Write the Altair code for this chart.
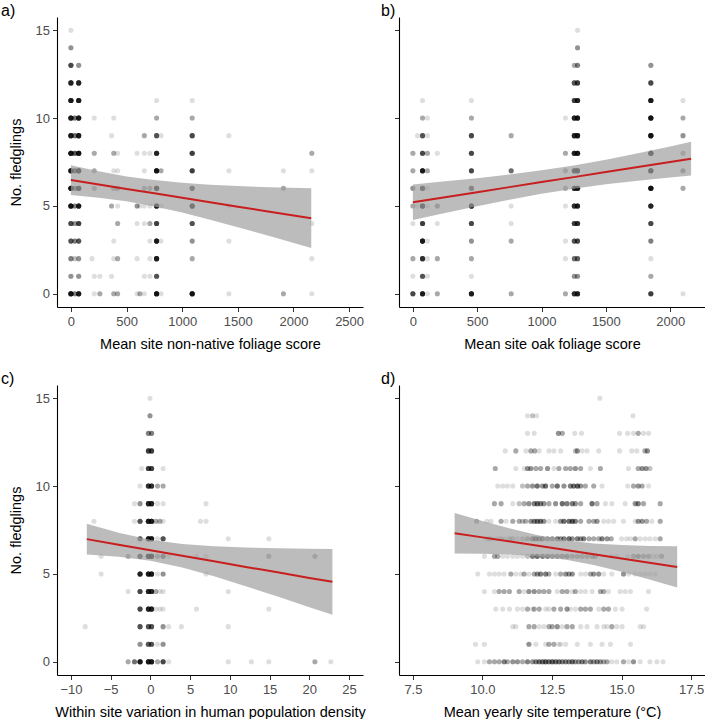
import altair as alt
import pandas as pd

FONT = "Liberation Sans"
RED = "#c81e1e"

# Fledgling counts: (x value, no. fledglings, no. of nests at that position)
nests_a = [
    (0, 15, 1),
    (0, 14, 4),
    (0, 13, 9), (70, 13, 4),
    (0, 12, 14), (70, 12, 14),
    (0, 11, 16), (70, 11, 16), (770, 11, 1), (1090, 11, 1),
    (0, 10, 16), (35, 10, 6), (70, 10, 16), (210, 10, 1), (385, 10, 1), (770, 10, 3), (1090, 10, 3),
    (0, 9, 16), (35, 9, 6), (70, 9, 16), (365, 9, 1), (660, 9, 3), (770, 9, 8), (810, 9, 1), (1090, 9, 9), (1420, 9, 1),
    (0, 8, 18), (35, 8, 8), (70, 8, 18), (210, 8, 3), (385, 8, 3), (420, 8, 1), (595, 8, 1), (660, 8, 1),
    (710, 8, 1), (770, 8, 14), (1090, 8, 10), (2165, 8, 3),
    (0, 7, 18), (35, 7, 8), (70, 7, 18), (210, 7, 3), (385, 7, 1), (420, 7, 1), (660, 7, 1), (770, 7, 18),
    (810, 7, 3), (1090, 7, 10), (1420, 7, 1), (1910, 7, 1), (2165, 7, 1),
    (0, 6, 18), (35, 6, 6), (70, 6, 16), (210, 6, 3), (385, 6, 3), (420, 6, 3), (660, 6, 3), (710, 6, 3),
    (770, 6, 16), (1090, 6, 10), (1910, 6, 3),
    (0, 5, 18), (35, 5, 5), (70, 5, 16), (365, 5, 3), (420, 5, 1), (595, 5, 4), (620, 5, 1), (660, 5, 1),
    (710, 5, 1), (770, 5, 16), (810, 5, 1), (1090, 5, 16), (1420, 5, 1),
    (0, 4, 9), (35, 4, 4), (70, 4, 10), (420, 4, 3), (595, 4, 1), (660, 4, 1), (710, 4, 3), (770, 4, 10),
    (1090, 4, 8), (2165, 4, 1),
    (0, 3, 8), (35, 3, 5), (70, 3, 8), (385, 3, 1), (710, 3, 1), (770, 3, 16), (810, 3, 1), (1090, 3, 4), (1420, 3, 1),
    (0, 2, 5), (35, 2, 2), (70, 2, 4), (190, 2, 1), (385, 2, 1), (420, 2, 3), (595, 2, 1), (710, 2, 1),
    (770, 2, 16), (1090, 2, 3), (2165, 2, 1),
    (0, 1, 4), (70, 1, 4), (210, 1, 1), (260, 1, 1), (365, 1, 1), (660, 1, 1), (710, 1, 1), (770, 1, 8),
    (0, 0, 18), (35, 0, 5), (70, 0, 16), (210, 0, 1), (260, 0, 3), (385, 0, 3), (420, 0, 3), (595, 0, 1),
    (620, 0, 3), (660, 0, 1), (770, 0, 18), (810, 0, 1), (1090, 0, 18), (1420, 0, 1), (1910, 0, 3), (2165, 0, 1),
]

nests_b = [
    (1280, 15, 1),
    (1280, 14, 4),
    (1255, 13, 3), (1280, 13, 5), (1850, 13, 4),
    (1255, 12, 8), (1280, 12, 10), (1850, 12, 9),
    (75, 11, 1), (455, 11, 1), (1255, 11, 10), (1280, 11, 14), (1850, 11, 16), (2100, 11, 1),
    (75, 10, 3), (113, 10, 1), (455, 10, 3), (1186, 10, 1), (1255, 10, 14), (1280, 10, 16), (1850, 10, 18), (2100, 10, 3),
    (36, 9, 1), (75, 9, 8), (113, 9, 1), (455, 9, 9), (764, 9, 3), (1255, 9, 14), (1280, 9, 16), (1850, 9, 18), (2100, 9, 4),
    (0, 8, 3), (75, 8, 9), (113, 8, 3), (190, 8, 1), (455, 8, 9), (1186, 8, 3), (1255, 8, 14), (1280, 8, 16),
    (1850, 8, 18), (2100, 8, 3),
    (0, 7, 3), (75, 7, 16), (113, 7, 3), (455, 7, 9), (764, 7, 6), (1186, 7, 3), (1255, 7, 14), (1280, 7, 16),
    (1850, 7, 18), (2100, 7, 4),
    (0, 6, 4), (75, 6, 12), (113, 6, 1), (455, 6, 9), (1186, 6, 3), (1255, 6, 14), (1280, 6, 16), (1850, 6, 18), (2100, 6, 3),
    (0, 5, 3), (36, 5, 1), (75, 5, 16), (113, 5, 1), (190, 5, 4), (455, 5, 16), (764, 5, 1), (1186, 5, 1),
    (1255, 5, 12), (1280, 5, 14), (1850, 5, 14),
    (0, 4, 1), (75, 4, 10), (190, 4, 1), (455, 4, 9), (764, 4, 1), (1255, 4, 10), (1280, 4, 12), (1850, 4, 9),
    (75, 3, 16), (113, 3, 1), (455, 3, 4), (764, 3, 3), (1186, 3, 1), (1255, 3, 8), (1280, 3, 9), (1850, 3, 5),
    (0, 2, 3), (75, 2, 12), (113, 2, 1), (190, 2, 3), (455, 2, 3), (1186, 2, 1), (1255, 2, 6), (1280, 2, 7), (1850, 2, 1),
    (0, 1, 1), (75, 1, 8), (113, 1, 1), (455, 1, 1), (1255, 1, 4), (1280, 1, 4), (1850, 1, 3),
    (0, 0, 9), (75, 0, 16), (113, 0, 1), (190, 0, 3), (455, 0, 16), (764, 0, 3), (1186, 0, 3), (1255, 0, 12),
    (1280, 0, 14), (1850, 0, 10), (2100, 0, 1),
]

nests_c = [
    (-0.05, 15, 1),
    (-0.05, 14, 4),
    (-0.25, 13, 5), (0.15, 13, 5),
    (-0.25, 12, 10), (0.15, 12, 10),
    (-1.1, 11, 1), (-0.25, 11, 10), (0.15, 11, 10), (1.6, 11, 1),
    (-1.3, 10, 1), (-0.25, 10, 12), (0.15, 10, 12), (0.9, 10, 3), (1.6, 10, 3),
    (-2.0, 9, 1), (-1.3, 9, 4), (-0.25, 9, 14), (0.15, 9, 14), (0.9, 9, 1), (1.6, 9, 1), (7.0, 9, 1),
    (-7.1, 8, 1), (-2.0, 8, 1), (-1.3, 8, 8), (-0.25, 8, 16), (0.15, 8, 16), (0.7, 8, 3), (1.2, 8, 3), (1.6, 8, 1),
    (6.3, 8, 1), (7.0, 8, 1),
    (-1.3, 7, 8), (-0.25, 7, 16), (0.15, 7, 16), (0.9, 7, 1), (1.6, 7, 8), (9.8, 7, 1), (14.9, 7, 1),
    (-6.2, 6, 1), (-2.8, 6, 3), (-1.3, 6, 9), (-0.25, 6, 16), (0.15, 6, 16), (0.9, 6, 3), (1.6, 6, 6), (2.3, 6, 1),
    (5.8, 6, 1), (7.0, 6, 1), (14.9, 6, 3), (20.7, 6, 3),
    (-6.2, 5, 1), (-1.3, 5, 14), (-0.25, 5, 16), (0.15, 5, 16), (0.9, 5, 1), (1.6, 5, 4), (7.0, 5, 1),
    (-2.8, 4, 1), (-1.3, 4, 9), (-0.25, 4, 14), (0.15, 4, 14), (0.7, 4, 3), (1.2, 4, 1), (1.6, 4, 1), (9.8, 4, 1),
    (-1.3, 3, 9), (-0.25, 3, 14), (0.15, 3, 14), (0.7, 3, 1), (1.2, 3, 1), (1.6, 3, 1), (5.8, 3, 1), (14.9, 3, 1),
    (-8.2, 2, 1), (-1.3, 2, 8), (-0.25, 2, 8), (0.15, 2, 8), (1.6, 2, 4), (2.3, 2, 1), (3.9, 2, 1), (9.8, 2, 1),
    (-1.3, 1, 4), (-0.25, 1, 8), (0.15, 1, 8), (0.9, 1, 1), (1.6, 1, 4),
    (-2.8, 0, 3), (-2.0, 0, 6), (-1.3, 0, 16), (-0.25, 0, 16), (0.15, 0, 16), (0.9, 0, 3), (1.6, 0, 9), (2.3, 0, 1),
    (9.8, 0, 1), (12.7, 0, 1), (14.9, 0, 1), (20.7, 0, 3), (22.7, 0, 1),
]

nests_d = [
    (14.22, 15, 1),
    (11.62, 14, 1), (11.80, 14, 2), (11.95, 14, 1), (15.41, 14, 1),
    (11.62, 13, 1), (11.86, 13, 1), (12.73, 13, 4), (12.87, 13, 3), (13.32, 13, 1), (13.56, 13, 1), (14.93, 13, 1),
    (15.22, 13, 1), (15.43, 13, 1), (15.60, 13, 3), (15.79, 13, 1), (15.97, 13, 1),
    (10.82, 12, 1), (11.20, 12, 3), (11.56, 12, 1), (11.74, 12, 3), (11.88, 12, 3), (12.04, 12, 1), (12.39, 12, 1),
    (12.57, 12, 1), (12.81, 12, 1), (13.34, 12, 2), (13.41, 12, 4), (13.58, 12, 1), (13.76, 12, 1), (14.18, 12, 1),
    (14.93, 12, 1), (15.37, 12, 1), (15.55, 12, 1), (15.84, 12, 3), (15.93, 12, 4),
    (10.46, 11, 3), (11.20, 11, 1), (11.50, 11, 1), (11.62, 11, 4), (11.74, 11, 4), (11.92, 11, 3), (12.09, 11, 3),
    (12.34, 11, 4), (12.57, 11, 1), (12.75, 11, 3), (12.99, 11, 3), (13.16, 11, 3), (13.34, 11, 4), (13.53, 11, 3),
    (13.88, 11, 1), (14.24, 11, 3), (15.25, 11, 1), (15.60, 11, 3), (15.74, 11, 4), (15.88, 11, 4), (16.02, 11, 2),
    (10.55, 10, 1), (10.73, 10, 1), (10.90, 10, 1), (11.09, 10, 1), (11.44, 10, 2), (11.62, 10, 3), (11.80, 10, 4),
    (11.97, 10, 6), (12.16, 10, 4), (12.27, 10, 6), (12.51, 10, 3), (12.69, 10, 6), (12.93, 10, 4), (13.16, 10, 5),
    (13.28, 10, 6), (13.42, 10, 7), (13.53, 10, 4), (13.70, 10, 3), (14.00, 10, 3), (14.30, 10, 1), (15.22, 10, 1),
    (15.43, 10, 3), (15.60, 10, 4), (15.74, 10, 3), (15.97, 10, 1),
    (10.43, 9, 3), (10.67, 9, 3), (11.09, 9, 1), (11.32, 9, 2), (11.50, 9, 3), (11.67, 9, 4), (11.86, 9, 5),
    (11.97, 9, 6), (12.09, 9, 5), (12.21, 9, 4), (12.39, 9, 3), (12.63, 9, 4), (12.87, 9, 6), (13.04, 9, 5),
    (13.23, 9, 5), (13.34, 9, 4), (13.53, 9, 3), (13.94, 9, 6), (14.12, 9, 3), (14.42, 9, 1), (14.65, 9, 1),
    (15.13, 9, 1), (15.49, 9, 4), (15.60, 9, 5), (15.79, 9, 3), (16.39, 9, 3),
    (9.79, 8, 3), (10.16, 8, 1), (10.31, 8, 1), (10.67, 8, 3), (10.85, 8, 1), (11.09, 8, 3), (11.32, 8, 3),
    (11.44, 8, 2), (11.55, 8, 3), (11.74, 8, 4), (11.86, 8, 5), (11.97, 8, 6), (12.09, 8, 6), (12.21, 8, 4),
    (12.39, 8, 1), (12.63, 8, 1), (12.81, 8, 4), (12.93, 8, 6), (13.11, 8, 6), (13.23, 8, 7), (13.34, 8, 5),
    (13.53, 8, 3), (13.83, 8, 3), (14.00, 8, 3), (14.12, 8, 4), (14.36, 8, 1), (14.53, 8, 1), (14.72, 8, 1),
    (15.07, 8, 1), (15.49, 8, 1), (15.60, 8, 4), (15.74, 8, 4), (15.90, 8, 3), (16.09, 8, 1), (16.39, 8, 3),
    (10.13, 7, 1), (10.25, 7, 2), (10.37, 7, 1), (10.53, 7, 1), (10.67, 7, 2), (10.81, 7, 1), (10.97, 7, 2),
    (11.09, 7, 2), (11.26, 7, 1), (11.44, 7, 2), (11.62, 7, 3), (11.80, 7, 5), (11.92, 7, 6), (12.04, 7, 5),
    (12.16, 7, 5), (12.34, 7, 4), (12.51, 7, 4), (12.69, 7, 5), (12.81, 7, 4), (12.93, 7, 5), (13.11, 7, 6),
    (13.23, 7, 4), (13.41, 7, 5), (13.53, 7, 4), (13.64, 7, 5), (13.83, 7, 3), (14.00, 7, 3), (14.18, 7, 3),
    (14.30, 7, 5), (14.48, 7, 4), (14.63, 7, 3), (15.00, 7, 1), (15.18, 7, 1), (15.32, 7, 1), (15.49, 7, 3),
    (15.67, 7, 1), (15.85, 7, 1), (16.02, 7, 1), (16.21, 7, 1), (16.39, 7, 3),
    (10.07, 6, 1), (10.43, 6, 3), (10.55, 6, 3), (10.73, 6, 1), (10.90, 6, 1), (11.09, 6, 1), (11.26, 6, 1),
    (11.44, 6, 1), (11.62, 6, 2), (11.80, 6, 5), (11.97, 6, 6), (12.16, 6, 5), (12.34, 6, 5), (12.51, 6, 4),
    (12.69, 6, 4), (12.87, 6, 4), (13.04, 6, 4), (13.23, 6, 3), (13.41, 6, 3), (13.58, 6, 3), (13.76, 6, 3),
    (13.94, 6, 3), (14.06, 6, 3), (14.65, 6, 1), (14.83, 6, 1), (15.22, 6, 1), (15.43, 6, 3), (15.60, 6, 4),
    (15.79, 6, 3), (15.97, 6, 3), (16.14, 6, 1), (16.27, 6, 1), (16.44, 6, 3),
    (9.83, 5, 1), (10.25, 5, 1), (10.43, 5, 1), (10.60, 5, 1), (10.78, 5, 1), (11.02, 5, 3), (11.20, 5, 1),
    (11.38, 5, 1), (11.50, 5, 3), (11.67, 5, 1), (11.86, 5, 3), (11.97, 5, 4), (12.09, 5, 5), (12.27, 5, 5),
    (12.39, 5, 3), (12.63, 5, 1), (12.81, 5, 3), (12.99, 5, 4), (13.11, 5, 4), (13.23, 5, 4), (13.53, 5, 1),
    (13.70, 5, 1), (13.88, 5, 3), (14.00, 5, 4), (14.18, 5, 4), (14.36, 5, 1), (14.65, 5, 1), (15.07, 5, 4),
    (15.25, 5, 1), (15.49, 5, 1), (15.67, 5, 1), (15.85, 5, 1), (16.02, 5, 1), (16.21, 5, 1),
    (10.07, 4, 1), (10.43, 4, 1), (10.60, 4, 3), (10.78, 4, 3), (10.97, 4, 3), (11.32, 4, 3), (11.50, 4, 1),
    (11.67, 4, 4), (11.86, 4, 4), (12.04, 4, 3), (12.21, 4, 3), (12.39, 4, 3), (12.69, 4, 1), (12.87, 4, 3),
    (13.04, 4, 3), (13.23, 4, 1), (13.34, 4, 3), (13.53, 4, 1), (13.70, 4, 1), (13.94, 4, 1), (14.24, 4, 3),
    (14.36, 4, 3), (14.53, 4, 1), (14.95, 4, 1), (15.13, 4, 1), (15.32, 4, 1), (15.97, 4, 1),
    (10.48, 3, 1), (10.73, 3, 1), (10.97, 3, 1), (11.26, 3, 1), (11.44, 3, 1), (11.62, 3, 3), (11.80, 3, 1),
    (11.86, 3, 3), (12.04, 3, 3), (12.27, 3, 1), (12.39, 3, 1), (12.57, 3, 3), (12.81, 3, 3), (13.04, 3, 4),
    (13.16, 3, 1), (13.34, 3, 1), (13.53, 3, 3), (13.70, 3, 3), (13.88, 3, 3), (14.18, 3, 1), (14.36, 3, 3),
    (14.53, 3, 3), (14.78, 3, 1), (15.02, 3, 1), (15.90, 3, 1),
    (11.09, 2, 1), (11.20, 2, 1), (11.67, 2, 3), (11.86, 2, 3), (12.04, 2, 1), (12.21, 2, 1), (12.39, 2, 3),
    (12.51, 2, 3), (12.69, 2, 4), (12.87, 2, 1), (13.04, 2, 3), (13.23, 2, 3), (13.53, 2, 1), (13.76, 2, 1),
    (14.12, 2, 1), (14.36, 2, 1), (14.48, 2, 1), (14.65, 2, 3), (14.83, 2, 1), (15.02, 2, 1), (15.67, 2, 1),
    (15.79, 2, 1),
    (9.75, 1, 1), (10.07, 1, 1), (11.67, 1, 4), (11.92, 1, 1), (12.27, 1, 1), (12.39, 1, 3), (12.57, 1, 3),
    (12.75, 1, 1), (12.81, 1, 1), (12.99, 1, 1), (13.41, 1, 1), (13.88, 1, 1), (14.30, 1, 1), (14.60, 1, 1),
    (15.32, 1, 1),
    (9.83, 0, 1), (10.07, 0, 1), (10.25, 0, 3), (10.43, 0, 3), (10.60, 0, 3), (10.78, 0, 5), (10.90, 0, 3),
    (11.09, 0, 4), (11.26, 0, 4), (11.44, 0, 3), (11.62, 0, 5), (11.80, 0, 4), (11.92, 0, 5), (12.04, 0, 6),
    (12.16, 0, 6), (12.27, 0, 7), (12.39, 0, 6), (12.51, 0, 7), (12.63, 0, 6), (12.75, 0, 6), (12.87, 0, 5),
    (12.99, 0, 5), (13.11, 0, 5), (13.23, 0, 6), (13.34, 0, 4), (13.46, 0, 4), (13.58, 0, 5), (13.70, 0, 4),
    (13.88, 0, 5), (14.00, 0, 4), (14.12, 0, 5), (14.24, 0, 4), (14.36, 0, 3), (14.48, 0, 3), (14.65, 0, 1),
    (14.83, 0, 1), (15.07, 0, 3), (15.25, 0, 1), (15.43, 0, 4), (15.67, 0, 1), (16.02, 0, 1), (16.27, 0, 1),
    (16.49, 0, 1),
]

# Model fits with 95% confidence bands
fit_a_x = [0, 250, 500, 750, 1000, 1250, 1500, 1800, 2160]
fit_a_y = [6.47, 6.22, 5.97, 5.72, 5.47, 5.21, 4.96, 4.66, 4.30]
fit_a_lo = [5.62, 5.47, 5.26, 4.97, 4.62, 4.21, 3.79, 3.26, 2.60]
fit_a_hi = [7.32, 6.97, 6.68, 6.47, 6.32, 6.21, 6.13, 6.06, 6.00]

fit_b_x = [0, 250, 500, 750, 1000, 1250, 1500, 1750, 2000, 2163]
fit_b_y = [5.21, 5.50, 5.78, 6.07, 6.36, 6.64, 6.93, 7.22, 7.50, 7.69]
fit_b_lo = [4.20, 4.60, 4.98, 5.35, 5.69, 5.98, 6.23, 6.44, 6.62, 6.73]
fit_b_hi = [6.22, 6.40, 6.58, 6.79, 7.03, 7.30, 7.63, 8.00, 8.38, 8.65]

fit_c_x = [-8, -4, 0, 4, 8, 12, 16, 20, 22.9]
fit_c_y = [6.98, 6.66, 6.35, 6.03, 5.72, 5.40, 5.09, 4.77, 4.55]
fit_c_lo = [6.10, 5.98, 5.75, 5.36, 4.87, 4.30, 3.72, 3.11, 2.68]
fit_c_hi = [7.86, 7.35, 6.95, 6.70, 6.57, 6.50, 6.46, 6.43, 6.42]

fit_d_x = [9, 10, 11, 12, 13, 14, 15, 16, 17]
fit_d_y = [7.32, 7.08, 6.84, 6.60, 6.36, 6.12, 5.88, 5.64, 5.40]
fit_d_lo = [6.17, 6.15, 6.10, 6.00, 5.81, 5.51, 5.12, 4.69, 4.23]
fit_d_hi = [8.47, 8.01, 7.58, 7.20, 6.91, 6.73, 6.64, 6.59, 6.57]

y_ticks = [0, 5, 10, 15]


def panel(nests, fx, fy, flo, fhi, xdom, xticks, xtitle, tag, tag_dx, first_col, xfmt):
    pts = pd.DataFrame(
        [(x, y) for x, y, n in nests for _ in range(n)], columns=["x", "y"]
    )
    band = pd.DataFrame({"x": fx, "fit": fy, "lo": flo, "hi": fhi})

    xscale = alt.Scale(domain=xdom, nice=False, zero=False)
    yscale = alt.Scale(domain=[-0.75, 15.75], nice=False, zero=False)
    xaxis = alt.Axis(values=xticks, title=xtitle, format=xfmt,
                     labelPadding=3.5, titlePadding=9)
    if first_col:
        yaxis = alt.Axis(values=y_ticks, title="No. fledglings",
                         labelPadding=3, titlePadding=12)
    else:
        yaxis = alt.Axis(values=y_ticks, title=None, labels=False)

    points = alt.Chart(pts).mark_circle(size=26, color="black", opacity=0.13).encode(
        x=alt.X("x:Q", scale=xscale, axis=xaxis),
        y=alt.Y("y:Q", scale=yscale, axis=yaxis),
    )
    ci = alt.Chart(band).mark_area(color="#a0a0a0", opacity=0.7).encode(
        x=alt.X("x:Q", scale=xscale, axis=xaxis),
        y=alt.Y("lo:Q", scale=yscale, axis=yaxis),
        y2="hi:Q",
    )
    line = alt.Chart(band).mark_line(color=RED, strokeWidth=2).encode(
        x=alt.X("x:Q", scale=xscale, axis=xaxis),
        y=alt.Y("fit:Q", scale=yscale, axis=yaxis),
    )
    return alt.layer(points, ci, line).properties(
        width=306,
        height=290,
        title=alt.TitleParams(
            text=tag, anchor="start", frame="group", dx=tag_dx, offset=-15,
            baseline="alphabetic", fontSize=16, fontWeight="normal",
            font=FONT, color="black",
        ),
    )


pa = panel(nests_a, fit_a_x, fit_a_y, fit_a_lo, fit_a_hi, [-125, 2625],
           [0, 500, 1000, 1500, 2000, 2500], "Mean site non-native foliage score",
           "a)", -56, True, "d")
pb = panel(nests_b, fit_b_x, fit_b_y, fit_b_lo, fit_b_hi, [-108, 2271],
           [0, 500, 1000, 1500, 2000], "Mean site oak foliage score",
           "b)", -18, False, "d")
pc = panel(nests_c, fit_c_x, fit_c_y, fit_c_lo, fit_c_hi, [-11.75, 26.75],
           [-10, -5, 0, 5, 10, 15, 20, 25], "Within site variation in human population density",
           "c)", -56, True, "d")
pd_ = panel(nests_d, fit_d_x, fit_d_y, fit_d_lo, fit_d_hi, [7.0, 18.0],
            [7.5, 10, 12.5, 15, 17.5], "Mean yearly site temperature (°C)",
            "d)", -18, False, ".1f")

chart = alt.concat(
    pa, pb, pc, pd_, columns=2, spacing={"row": 78, "column": 36}, bounds="flush"
).properties(
    padding={"left": 1, "top": 3, "right": 0, "bottom": 0}
).configure_view(
    stroke=None
).configure_axis(
    domainColor="black", domainWidth=1.1, tickColor="#333333", tickWidth=1,
    tickSize=4.5, labelColor="#4d4d4d", labelFontSize=13, labelFont=FONT,
    titleFont=FONT, titleFontSize=14.5, titleColor="black",
    titleFontWeight="normal", grid=False,
)

chart.save("out.html", embed_options={"renderer": "svg", "actions": False})
